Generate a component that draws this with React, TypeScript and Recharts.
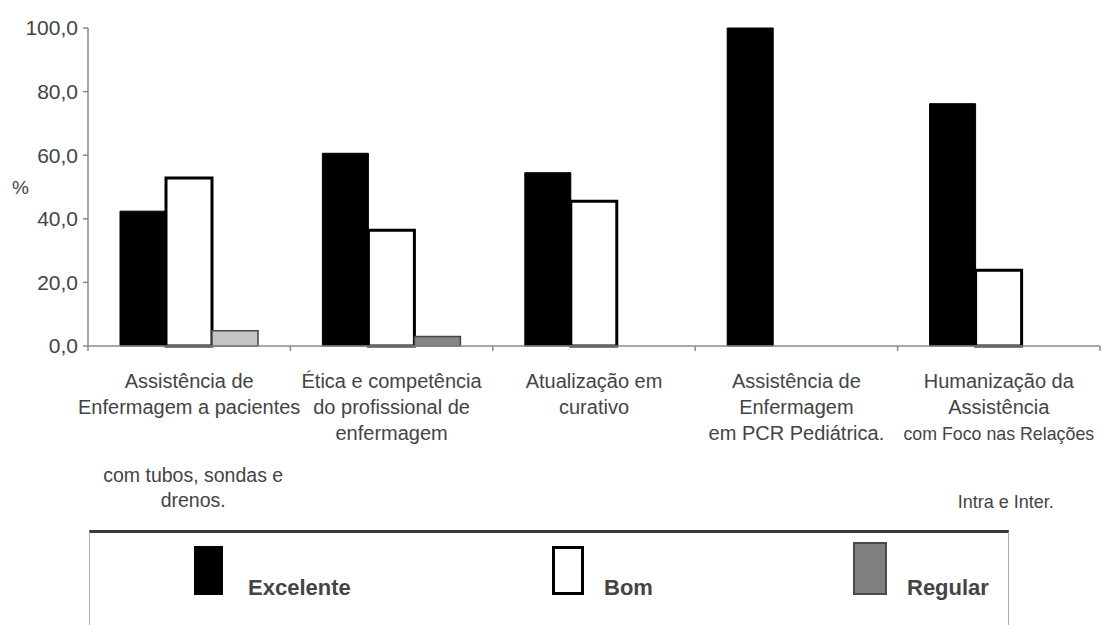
import { BarChart, Bar, XAxis, YAxis, Cell, Legend, Label } from "recharts"

const CATEGORY_LINES: string[][] = [
  ["Assistência de", "Enfermagem a pacientes"],
  ["Ética e competência", "do profissional de", "enfermagem"],
  ["Atualização em", "curativo"],
  ["Assistência de", "Enfermagem", "em PCR Pediátrica."],
  ["Humanização da", "Assistência", "com Foco nas Relações"],
]

// continuation lines printed lower, under the axis labels
const CATEGORY_NOTES: string[][] = [
  ["com tubos, sondas e", "drenos."],
  [],
  [],
  [],
  ["Intra e Inter."],
]

const EXCELENTE = [42.4, 60.6, 54.5, 100, 76.2]
const BOM: (number | null)[] = [52.8, 36.4, 45.5, null, 23.8]
const REGULAR: (number | null)[] = [4.8, 3.0, null, null, null]

const Y_TICKS = [0, 20, 40, 60, 80, 100]

const FONT = "'Liberation Sans', Arial, sans-serif"
const TEXT = "#444"
const AXIS = "#8a8a8a"

const REGULAR_FILLS = ["#c4c4c4", "#858585"]

const data = CATEGORY_LINES.map((lines, i) => ({
  name: lines.join(" "),
  excelente: EXCELENTE[i],
  bom: BOM[i],
  regular: REGULAR[i],
}))

function CategoryTick(props: any) {
  const { x, y, index, payload } = props
  const half = payload?.offset || 101.2
  const lines = CATEGORY_LINES[index] ?? []
  const notes = CATEGORY_NOTES[index] ?? []
  const last = index === CATEGORY_LINES.length - 1
  const noteDx = last ? 7 : 4
  const noteTop = last ? 162 : 136
  const noteSize = last ? 18 : 19.5
  return (
    <g>
      {/* small marks at the category boundaries */}
      {index === 0 && (
        <line x1={x - half} x2={x - half} y1={y} y2={y + 5} stroke={AXIS} strokeWidth={1.5} />
      )}
      <line x1={x + half} x2={x + half} y1={y} y2={y + 5} stroke={AXIS} strokeWidth={1.5} />
      {lines.map((line, i) => (
        <text
          key={"l" + i}
          x={x}
          y={y + 42 + i * 26}
          textAnchor="middle"
          fontFamily={FONT}
          fontSize={last && line.length > 20 ? 17.8 : 20}
          fill={TEXT}
        >
          {line}
        </text>
      ))}
      {notes.map((line, i) => (
        <text
          key={"n" + i}
          x={x + noteDx}
          y={y + noteTop + i * 25}
          textAnchor="middle"
          fontFamily={FONT}
          fontSize={noteSize}
          fill={TEXT}
        >
          {line}
        </text>
      ))}
    </g>
  )
}

const SWATCH: Record<string, { left: number; top: number; w: number; h: number; gap: number; style: any }> = {
  Excelente: { left: 104, top: 16, w: 29, h: 49, gap: 54, style: { background: "#000" } },
  Bom: { left: 462, top: 16, w: 32, h: 49, gap: 52, style: { background: "#fff", border: "3px solid #000", boxSizing: "border-box" } },
  Regular: { left: 763, top: 12, w: 34, h: 53, gap: 54, style: { background: "#808080", border: "2px solid #4a4a4a", boxSizing: "border-box" } },
}

function LegendBox({ payload }: any) {
  return (
    <div
      style={{
        position: "relative",
        width: 920,
        height: 95,
        borderTop: "3px solid #3a3a3a",
        borderLeft: "1.5px solid #aaa",
        borderRight: "1.5px solid #aaa",
        boxSizing: "border-box",
        fontFamily: FONT,
      }}
    >
      {(payload ?? []).map((entry: any) => {
        const s = SWATCH[entry.value]
        if (!s) return null
        return (
          <div key={entry.value}>
            <div
              style={{
                position: "absolute",
                left: s.left,
                top: s.top - 3,
                width: s.w,
                height: s.h,
                ...s.style,
              }}
            />
            <span
              style={{
                position: "absolute",
                left: s.left + s.gap,
                top: 42,
                fontSize: 22,
                fontWeight: "bold",
                color: TEXT,
                whiteSpace: "nowrap",
              }}
            >
              {entry.value}
            </span>
          </div>
        )
      })}
    </div>
  )
}

export default function App() {
  return (
    <div style={{ width: 1103, height: 625, background: "#fff" }}>
      <style>{"body{margin:0}"}</style>
      <BarChart
        width={1103}
        height={625}
        data={data}
        margin={{ top: 28, right: 3, left: 0, bottom: 0 }}
        barCategoryGap={32}
        barGap={0}
      >
        <XAxis
          dataKey="name"
          height={279}
          interval={0}
          tickSize={0}
          tickMargin={0}
          tickLine={false}
          axisLine={{ stroke: AXIS, strokeWidth: 1.5 }}
          tick={<CategoryTick />}
        />
        <YAxis
          width={88}
          domain={[0, 100]}
          ticks={Y_TICKS}
          interval={0}
          tickSize={5}
          tickMargin={5}
          tickLine={{ stroke: AXIS, strokeWidth: 1.5 }}
          axisLine={{ stroke: AXIS, strokeWidth: 1.5 }}
          tickFormatter={(v: number) => v.toFixed(1).replace(".", ",")}
          tick={{ fontFamily: FONT, fontSize: 21, fill: TEXT }}
        >
          <Label
            value="%"
            position="insideLeft"
            offset={12}
            style={{ fontFamily: FONT, fontSize: 19, fill: TEXT, textAnchor: "start" }}
          />
        </YAxis>
        <Legend
          layout="horizontal"
          verticalAlign="middle"
          align="center"
          content={<LegendBox />}
          wrapperStyle={{ position: "absolute", left: 89, top: 530, width: 920, height: 95 }}
        />
        <Bar dataKey="excelente" name="Excelente" fill="#000" stroke="#000" isAnimationActive={false} />
        <Bar dataKey="bom" name="Bom" fill="#fff" stroke="#000" strokeWidth={3} isAnimationActive={false} />
        <Bar dataKey="regular" name="Regular" fill="#808080" stroke="#444" strokeWidth={1.5} isAnimationActive={false}>
          {data.map((d, i) => (
            <Cell key={d.name} fill={REGULAR_FILLS[i] ?? "#808080"} />
          ))}
        </Bar>
      </BarChart>
    </div>
  )
}
